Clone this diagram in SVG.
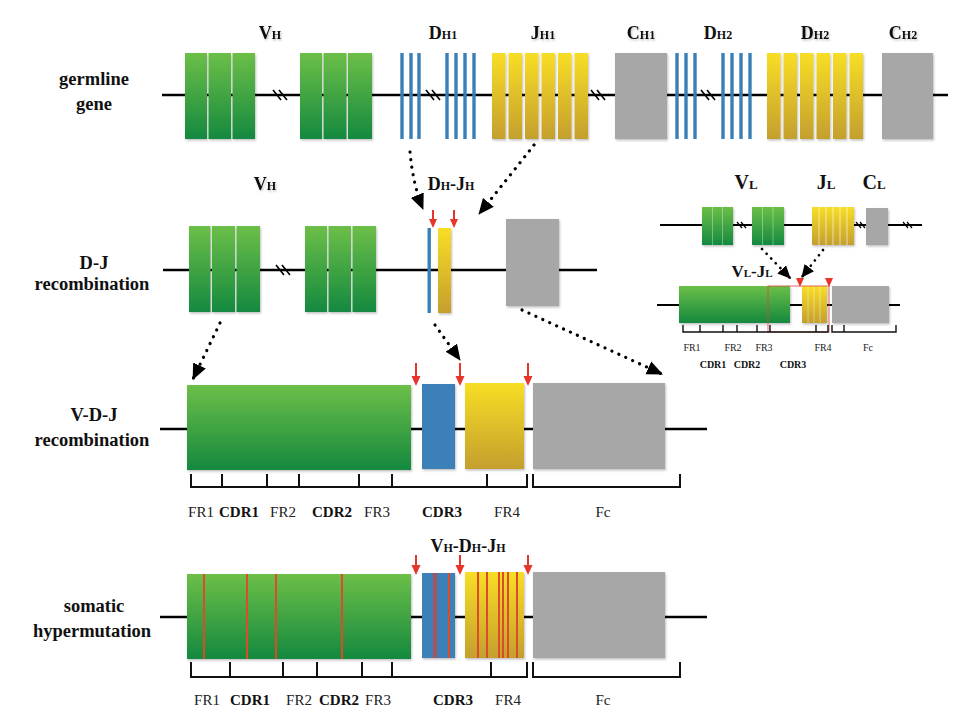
<svg xmlns="http://www.w3.org/2000/svg" width="965" height="714" viewBox="0 0 965 714">
<style>
.bg{fill:#ffffff}
.ln{stroke:#000;stroke-width:2.5;fill:none}
.gr{fill:url(#gGreen)}
.ye{fill:url(#gYellow)}
.bl{fill:#3a80b8}
.gy{fill:#a7a7a7}
.sl{stroke:#000;stroke-width:1.6;fill:none}
.row{font-family:"Liberation Serif","Times New Roman",serif;font-weight:bold;font-size:18.5px;fill:#111;text-anchor:middle}
.lab{font-family:"Liberation Serif","Times New Roman",serif;font-weight:bold;font-size:18px;fill:#111;text-anchor:middle}
.lab .s{font-size:12px}
.llab{font-family:"Liberation Serif","Times New Roman",serif;font-weight:bold;font-size:20px;fill:#111;text-anchor:middle}
.llab .s{font-size:13px}
.vj{font-family:"Liberation Serif","Times New Roman",serif;font-weight:bold;font-size:17px;fill:#111;text-anchor:middle}
.vj .s{font-size:11px}
.fr{font-family:"Liberation Serif","Times New Roman",serif;font-size:15px;fill:#222;text-anchor:middle}
.cdr{font-family:"Liberation Serif","Times New Roman",serif;font-size:15px;font-weight:bold;fill:#111;text-anchor:middle}
.sfr{font-family:"Liberation Serif","Times New Roman",serif;font-size:10px;fill:#222;text-anchor:middle}
.scdr{font-family:"Liberation Serif","Times New Roman",serif;font-size:10px;font-weight:bold;fill:#111;text-anchor:middle}
.br{stroke:#111;stroke-width:2;fill:none}
.sbr{stroke:#111;stroke-width:1.4;fill:none}
.dot{stroke:#000;stroke-width:3.2;stroke-linecap:round;stroke-dasharray:0.1 7.5;fill:none}
.dots{stroke:#000;stroke-width:2.6;stroke-linecap:round;stroke-dasharray:0.1 6.5;fill:none}
.ra{stroke:#e8352b;stroke-width:2;fill:none}
.rah{fill:#e8352b}
.mut{stroke:#dc4b2a;stroke-width:2}
.sub{stroke:#ffffff;stroke-opacity:0.35;stroke-width:1}
</style>
<defs>
<linearGradient id="gGreen" x1="0" y1="0" x2="0" y2="1">
<stop offset="0" stop-color="#6cbf47"/>
<stop offset="1" stop-color="#14893f"/>
</linearGradient>
<linearGradient id="gYellow" x1="0" y1="0" x2="0" y2="1">
<stop offset="0" stop-color="#f8de26"/>
<stop offset="1" stop-color="#c49f2e"/>
</linearGradient>
<filter id="sh" x="-10%" y="-10%" width="130%" height="130%">
<feDropShadow dx="1" dy="1.5" stdDeviation="1" flood-color="#000" flood-opacity="0.25"/>
</filter>
<marker id="ah" markerUnits="userSpaceOnUse" markerWidth="16" markerHeight="16" viewBox="0 0 16 14" refX="15" refY="7" orient="auto">
<path d="M0,0 L16,7 L0,14 z" fill="#000"/>
</marker>
<marker id="ahs" markerUnits="userSpaceOnUse" markerWidth="13" markerHeight="12" viewBox="0 0 13 12" refX="12" refY="6" orient="auto">
<path d="M0,0 L13,6 L0,12 z" fill="#000"/>
</marker>
</defs>
<rect class="bg" x="0" y="0" width="965" height="714"/>

<!-- row labels -->
<g id="row-labels">
<text class="row" x="94" y="85">germline</text>
<text class="row" x="94" y="110">gene</text>
<text class="row" x="94" y="269">D-J</text>
<text class="row" x="92" y="290">recombination</text>
<text class="row" x="94" y="421">V-D-J</text>
<text class="row" x="92" y="446">recombination</text>
<text class="row" x="94" y="612">somatic</text>
<text class="row" x="92" y="637">hypermutation</text>
</g>

<!-- ROW 1 germline -->
<g id="germline-line">
<line class="ln" x1="162" y1="95" x2="948" y2="95"/>
<path class="sl" d="M273,90 L281,100 M279,90 L287,100 M426,90 L434,100 M432,90 L440,100 M591,90 L599,100 M597,90 L605,100 M701,90 L709,100 M707,90 L715,100"/>
</g>
<g id="germline-VH" filter="url(#sh)">
<rect class="gr" x="185" y="53" width="22" height="86"/>
<rect class="gr" x="208.5" y="53" width="22.5" height="86"/>
<rect class="gr" x="232.5" y="53" width="22.5" height="86"/>
<rect class="gr" x="300" y="53" width="22" height="86"/>
<rect class="gr" x="323.5" y="53" width="23" height="86"/>
<rect class="gr" x="348" y="53" width="24" height="86"/>
<text class="lab" x="270" y="39">V<tspan class="s">H</tspan></text>
</g>
<g id="germline-DH1">
<rect class="bl" x="400.3" y="53" width="3.4" height="86"/>
<rect class="bl" x="409.3" y="53" width="3.4" height="86"/>
<rect class="bl" x="417.3" y="53" width="3.4" height="86"/>
<rect class="bl" x="445.3" y="53" width="3.4" height="86"/>
<rect class="bl" x="454.3" y="53" width="3.4" height="86"/>
<rect class="bl" x="463.3" y="53" width="3.4" height="86"/>
<rect class="bl" x="472.3" y="53" width="3.4" height="86"/>
<text class="lab" x="443" y="39">D<tspan class="s">H1</tspan></text>
</g>
<g id="germline-JH1" filter="url(#sh)">
<rect class="ye" x="492" y="53" width="13.5" height="86"/>
<rect class="ye" x="508.5" y="53" width="13.5" height="86"/>
<rect class="ye" x="525" y="53" width="13.5" height="86"/>
<rect class="ye" x="541.5" y="53" width="13.5" height="86"/>
<rect class="ye" x="558" y="53" width="13.5" height="86"/>
<rect class="ye" x="574.5" y="53" width="13.5" height="86"/>
<text class="lab" x="543" y="39">J<tspan class="s">H1</tspan></text>
</g>
<g id="germline-CH1" filter="url(#sh)">
<rect class="gy" x="615" y="53" width="52" height="86"/>
<text class="lab" x="641" y="39">C<tspan class="s">H1</tspan></text>
</g>
<g id="germline-DH2-blue">
<rect class="bl" x="675.3" y="53" width="3.4" height="86"/>
<rect class="bl" x="684.3" y="53" width="3.4" height="86"/>
<rect class="bl" x="693.3" y="53" width="3.4" height="86"/>
<rect class="bl" x="721.3" y="53" width="3.4" height="86"/>
<rect class="bl" x="730.3" y="53" width="3.4" height="86"/>
<rect class="bl" x="739.3" y="53" width="3.4" height="86"/>
<rect class="bl" x="748.3" y="53" width="3.4" height="86"/>
<text class="lab" x="718" y="39">D<tspan class="s">H2</tspan></text>
</g>
<g id="germline-DH2-yellow" filter="url(#sh)">
<rect class="ye" x="767" y="53" width="13.5" height="86"/>
<rect class="ye" x="783.5" y="53" width="13.5" height="86"/>
<rect class="ye" x="800" y="53" width="13.5" height="86"/>
<rect class="ye" x="816.5" y="53" width="13.5" height="86"/>
<rect class="ye" x="833" y="53" width="13.5" height="86"/>
<rect class="ye" x="849.5" y="53" width="13.5" height="86"/>
<text class="lab" x="815" y="39">D<tspan class="s">H2</tspan></text>
</g>
<g id="germline-CH2" filter="url(#sh)">
<rect class="gy" x="882" y="53" width="51" height="86"/>
<text class="lab" x="903" y="39">C<tspan class="s">H2</tspan></text>
</g>

<!-- ROW 2 D-J recombination -->
<g id="dj-line">
<line class="ln" x1="163" y1="270" x2="597" y2="270"/>
<path class="sl" d="M276,265 L284,275 M282,265 L290,275"/>
</g>
<g id="dj-VH" filter="url(#sh)">
<rect class="gr" x="189" y="226" width="21.5" height="86"/>
<rect class="gr" x="212" y="226" width="23" height="86"/>
<rect class="gr" x="236.5" y="226" width="23.5" height="86"/>
<rect class="gr" x="305" y="226" width="22" height="86"/>
<rect class="gr" x="328.5" y="226" width="22.5" height="86"/>
<rect class="gr" x="352.5" y="226" width="23.5" height="86"/>
<text class="lab" x="265" y="190">V<tspan class="s">H</tspan></text>
</g>
<g id="dj-DJ">
<rect class="bl" x="427.5" y="228" width="3.4" height="85"/>
<rect class="ye" x="438" y="228" width="13" height="85" filter="url(#sh)"/>
<text class="lab" x="451" y="190">D<tspan class="s">H</tspan>-J<tspan class="s">H</tspan></text>
</g>
<g id="dj-C" filter="url(#sh)">
<rect class="gy" x="506" y="219" width="53" height="87"/>
</g>

<!-- Light chain -->
<g id="light-germline">
<line class="ln" x1="660" y1="225" x2="922" y2="225" style="stroke-width:2"/>
<path class="sl" d="M737,222 L742,228 M741,222 L746,228 M856,222 L861,228 M860,222 L865,228 M903,222 L908,228 M907,222 L912,228" style="stroke-width:1.2"/>
<rect class="gr" x="702" y="207" width="31" height="38" filter="url(#sh)"/>
<path class="sub" d="M712.5,207 V245 M722.5,207 V245"/>
<rect class="gr" x="752" y="207" width="32" height="38" filter="url(#sh)"/>
<path class="sub" d="M762.5,207 V245 M773,207 V245"/>
<rect class="ye" x="812" y="207" width="42" height="38" filter="url(#sh)"/>
<path class="sub" d="M819,207 V245 M826,207 V245 M833,207 V245 M840,207 V245 M847,207 V245" style="stroke-opacity:0.6"/>
<rect class="gy" x="866" y="208" width="22" height="37" filter="url(#sh)"/>
<text class="llab" x="746" y="189">V<tspan class="s">L</tspan></text>
<text class="llab" x="826" y="189">J<tspan class="s">L</tspan></text>
<text class="llab" x="874" y="189">C<tspan class="s">L</tspan></text>
</g>
<g id="light-VJ">
<line class="ln" x1="657" y1="305" x2="900" y2="305" style="stroke-width:2"/>
<rect class="gr" x="679" y="286" width="111" height="37" filter="url(#sh)"/>
<rect class="ye" x="802" y="286" width="25" height="37" filter="url(#sh)"/>
<path class="sub" d="M808,286 V323 M814,286 V323 M820,286 V323" style="stroke-opacity:0.4"/>
<rect class="gy" x="832" y="286" width="57" height="37" filter="url(#sh)"/>
<rect x="768" y="286" width="61" height="46" fill="none" stroke="#d9473a" stroke-width="1" stroke-opacity="0.8"/>
<path d="M796,278 L804,278 L800,287 z M825,278 L833,278 L829,287 z" fill="#e8352b"/>
<text class="vj" x="752" y="277">V<tspan class="s">L</tspan>-J<tspan class="s">L</tspan></text>
<path class="sbr" d="M683,325 V332 H828 V325 M700,325 V332 M723,325 V332 M737,325 V332 M757,325 V332 M770,325 V332 M816,325 V332"/>
<path class="sbr" d="M832,325 V332 H896 V325 M844,325 V332"/>
<text class="sfr" x="692" y="351">FR1</text>
<text class="sfr" x="733" y="351">FR2</text>
<text class="sfr" x="764" y="351">FR3</text>
<text class="sfr" x="823" y="351">FR4</text>
<text class="sfr" x="868" y="351">Fc</text>
<text class="scdr" x="713" y="368">CDR1</text>
<text class="scdr" x="747" y="368">CDR2</text>
<text class="scdr" x="793" y="368">CDR3</text>
</g>

<!-- ROW 3 V-D-J -->
<g id="vdj">
<line class="ln" x1="160" y1="429" x2="707" y2="429"/>
<g filter="url(#sh)">
<rect class="gr" x="187" y="385" width="224" height="85"/>
<rect class="bl" x="422" y="384" width="33" height="85"/>
<rect class="ye" x="465" y="383" width="59" height="86"/>
<rect class="gy" x="533" y="383" width="132" height="86"/>
</g>
<path class="br" d="M191,474 V487 H527 V474 M222,474 V487 M267,474 V487 M299,474 V487 M359,474 V487 M392,474 V487 M487,474 V487"/>
<path class="br" d="M533,474 V487 H680 V474"/>
<text class="fr" x="201" y="517">FR1</text>
<text class="cdr" x="239" y="517">CDR1</text>
<text class="fr" x="283" y="517">FR2</text>
<text class="cdr" x="332" y="517">CDR2</text>
<text class="fr" x="377" y="517">FR3</text>
<text class="cdr" x="442" y="517">CDR3</text>
<text class="fr" x="507" y="517">FR4</text>
<text class="fr" x="603" y="517">Fc</text>
</g>

<!-- ROW 4 somatic hypermutation -->
<g id="shm">
<line class="ln" x1="160" y1="617" x2="707" y2="617"/>
<g filter="url(#sh)">
<rect class="gr" x="187" y="574" width="224" height="85"/>
<rect class="bl" x="422" y="573" width="33" height="85"/>
<rect class="ye" x="465" y="572" width="59" height="86"/>
<rect class="gy" x="533" y="572" width="132" height="86"/>
</g>
<path class="mut" d="M204,574 V659 M247,574 V659 M276,574 V659 M342,574 V659"/>
<path d="M435,573 V658" stroke="#a8525e" stroke-width="4"/>
<path class="mut" d="M449,573 V658"/>
<path class="mut" d="M478,572 V658 M487,572 V658 M499,572 V658 M503,572 V658 M508,572 V658 M517,572 V658"/>
<text class="lab" x="468" y="552">V<tspan class="s">H</tspan>-D<tspan class="s">H</tspan>-J<tspan class="s">H</tspan></text>
<path class="br" d="M191,662 V677 H527 V662 M230,662 V677 M283,662 V677 M317,662 V677 M362,662 V677 M392,662 V677 M491,662 V677"/>
<path class="br" d="M533,662 V677 H680 V662"/>
<text class="fr" x="207" y="705">FR1</text>
<text class="cdr" x="250" y="705">CDR1</text>
<text class="fr" x="299" y="705">FR2</text>
<text class="cdr" x="339" y="705">CDR2</text>
<text class="fr" x="378" y="705">FR3</text>
<text class="cdr" x="453" y="705">CDR3</text>
<text class="fr" x="508" y="705">FR4</text>
<text class="fr" x="603" y="705">Fc</text>
</g>

<!-- red cut-site arrows -->
<g id="cut-sites">
<path class="ra" d="M433,210 V222 M454,210 V222 M416,363 V379 M460,363 V379 M528,363 V379 M416,555 V568 M460,555 V568 M528,555 V568"/>
<path class="rah" d="M429,219 L437,219 L433,228 z M450,219 L458,219 L454,228 z M411.5,376 L420.5,376 L416,386 z M455.5,376 L464.5,376 L460,386 z M523.5,376 L532.5,376 L528,386 z M411.5,565 L420.5,565 L416,575 z M455.5,565 L464.5,565 L460,575 z M523.5,565 L532.5,565 L528,575 z"/>
</g>

<!-- dotted connectors -->
<g id="connectors">
<path class="dot" d="M410,152 Q413,185 423,209" marker-end="url(#ah)"/>
<path class="dot" d="M534,145 Q508,178 479,214" marker-end="url(#ah)"/>
<path class="dot" d="M220,323 L193,379" marker-end="url(#ah)"/>
<path class="dot" d="M435,325 L460,360" marker-end="url(#ah)"/>
<path class="dot" d="M522,310 L662,374" marker-end="url(#ah)"/>
<path class="dots" d="M762,249 L790,278" marker-end="url(#ahs)"/>
<path class="dots" d="M823,250 L802,277" marker-end="url(#ahs)"/>
</g>
</svg>
